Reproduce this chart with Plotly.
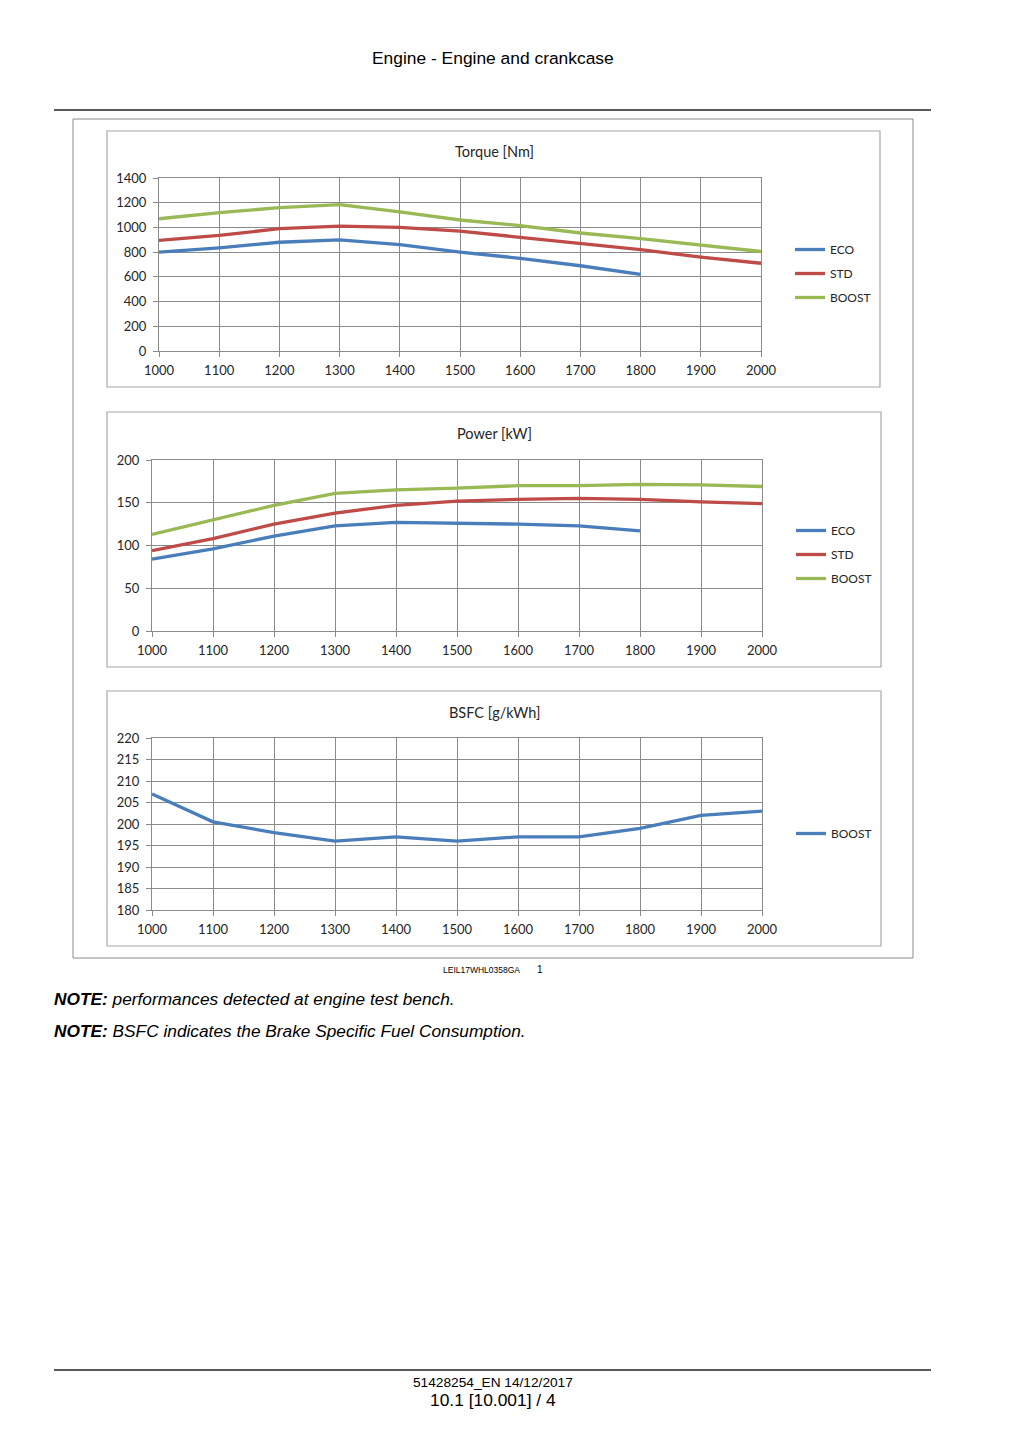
import plotly.graph_objects as go

# ---------------- data ----------------
rpm = [1000, 1100, 1200, 1300, 1400, 1500, 1600, 1700, 1800, 1900, 2000]
rpm_eco = [1000, 1100, 1200, 1300, 1400, 1500, 1600, 1700, 1800]

torque_eco = [800, 835, 880, 900, 860, 800, 750, 690, 620]
torque_std = [895, 935, 990, 1010, 1000, 970, 920, 870, 820, 760, 710]
torque_boost = [1070, 1120, 1160, 1185, 1125, 1060, 1015, 955, 910, 860, 805]

power_eco = [84, 96, 111, 123, 127, 126, 125, 123, 117]
power_std = [94, 108, 125, 138, 147, 152, 154, 155, 154, 151, 149]
power_boost = [113, 130, 147, 161, 165, 167, 170, 170, 171.5, 171, 169]

bsfc_boost = [207, 200.5, 198, 196, 197, 196, 197, 197, 199, 202, 203]

series_names = ["ECO", "STD", "BOOST"]
colors = {"ECO": "#4a7ebb", "STD": "#be4b48", "BOOST": "#98b954"}

chart_titles = ["Torque [Nm]", "Power [kW]", "BSFC [g/kWh]"]

W, H = 1024, 1448


def px(x):
    return x / W


def py(y):
    return 1 - y / H


CHART_FONT = "Lato, 'Open Sans', sans-serif"
DOC_FONT = "'Liberation Sans', Arial, sans-serif"
TXT = "#262626"
GRID = "#8a8a8a"
LW = 3.3

fig = go.Figure()

# Torque
for name, xs, ys in [("ECO", rpm_eco, torque_eco), ("STD", rpm, torque_std), ("BOOST", rpm, torque_boost)]:
    fig.add_trace(go.Scatter(x=xs, y=ys, mode="lines", name=name, legend="legend",
                             legendgroup="t" + name,
                             line=dict(color=colors[name], width=LW), xaxis="x", yaxis="y"))
# Power
for name, xs, ys in [("ECO", rpm_eco, power_eco), ("STD", rpm, power_std), ("BOOST", rpm, power_boost)]:
    fig.add_trace(go.Scatter(x=xs, y=ys, mode="lines", name=name, legend="legend2",
                             legendgroup="p" + name,
                             line=dict(color=colors[name], width=LW), xaxis="x2", yaxis="y2"))
# BSFC
fig.add_trace(go.Scatter(x=rpm, y=bsfc_boost, mode="lines", name="BOOST", legend="legend3",
                         line=dict(color=colors["ECO"], width=LW), xaxis="x3", yaxis="y3"))

axis_common = dict(showgrid=True, gridcolor=GRID, gridwidth=1, showline=True, linecolor=GRID,
                   linewidth=1, mirror=True, ticks="outside", ticklen=5, tickcolor=GRID,
                   tickfont=dict(family=CHART_FONT, size=13, color=TXT), zeroline=False,
                   fixedrange=True, automargin=False)

xaxis_base = dict(axis_common, range=[1000, 2000], tickvals=rpm, ticktext=[str(r) for r in rpm],
                  ticklabelstandoff=2)
yaxis_extra = dict(ticklabelstandoff=4)

fig.update_layout(
    xaxis=dict(xaxis_base, domain=[px(159), px(761)], anchor="y"),
    yaxis=dict(axis_common, **yaxis_extra, domain=[py(351), py(178)], range=[0, 1400], dtick=200, anchor="x"),
    xaxis2=dict(xaxis_base, domain=[px(152), px(762)], anchor="y2"),
    yaxis2=dict(axis_common, **yaxis_extra, domain=[py(631), py(460)], range=[0, 200], dtick=50, anchor="x2"),
    xaxis3=dict(xaxis_base, domain=[px(152), px(762)], anchor="y3"),
    yaxis3=dict(axis_common, **yaxis_extra, domain=[py(910), py(738)], range=[180, 220], dtick=5, anchor="x3"),
)

leg_common = dict(font=dict(family=CHART_FONT, size=12, color=TXT), bgcolor="rgba(0,0,0,0)",
                  itemwidth=30, xanchor="left", yanchor="top", tracegroupgap=5,
                  itemclick=False, itemdoubleclick=False)
fig.update_layout(
    legend=dict(leg_common, x=px(790), y=py(235)),
    legend2=dict(leg_common, x=px(791), y=py(516)),
    legend3=dict(leg_common, x=px(791), y=py(819)),
)

shapes = []
# header / footer rules
shapes.append(dict(type="line", xref="paper", yref="paper", x0=px(54), x1=px(931), y0=py(110), y1=py(110),
                   line=dict(color="#222", width=1.5)))
shapes.append(dict(type="line", xref="paper", yref="paper", x0=px(54), x1=px(931), y0=py(1370), y1=py(1370),
                   line=dict(color="#222", width=1.5)))
# outer figure frame
shapes.append(dict(type="rect", xref="paper", yref="paper", x0=px(73), x1=px(913), y0=py(958), y1=py(119),
                   line=dict(color="#8a8a8a", width=1)))
# chart area frames
for (x0, x1, y0, y1) in [(107, 880, 131, 387), (107, 881, 412, 667), (107, 881, 691, 946)]:
    shapes.append(dict(type="rect", xref="paper", yref="paper", x0=px(x0), x1=px(x1), y0=py(y1), y1=py(y0),
                       line=dict(color="#a8a8a8", width=1.2)))

annotations = []


def ann(text, x, y, size, family=DOC_FONT, xanchor="center", color="#000"):
    annotations.append(dict(text=text, x=px(x), y=py(y), xref="paper", yref="paper", showarrow=False,
                            xanchor=xanchor, yanchor="middle",
                            font=dict(family=family, size=size, color=color)))


ann("Engine - Engine and crankcase", 493, 58, 17.4)
for t, yy in zip(chart_titles, [152, 433, 712]):
    ann(t, 494, yy, 14.5, family=CHART_FONT, color=TXT)
ann("LEIL17WHL0358GA", 481, 970, 8.5)
ann("1", 540, 969, 10)
ann("<b><i>NOTE:</i></b><i> performances detected at engine test bench.</i>", 52, 999, 17.3, xanchor="left")
ann("<b><i>NOTE:</i></b><i> BSFC indicates the Brake Specific Fuel Consumption.</i>", 52, 1031, 17.3,
    xanchor="left")
ann("51428254_EN 14/12/2017", 493, 1382, 13.7)
ann("10.1 [10.001] / 4", 493, 1400, 17.4)

fig.update_layout(
    width=W, height=H, autosize=False,
    margin=dict(l=0, r=0, t=0, b=0, pad=0, autoexpand=False),
    paper_bgcolor="white", plot_bgcolor="white",
    shapes=shapes, annotations=annotations,
    showlegend=True,
)

fig.write_html("out.html", config={"displayModeBar": False},
               post_script="document.body.style.margin='0px';")
